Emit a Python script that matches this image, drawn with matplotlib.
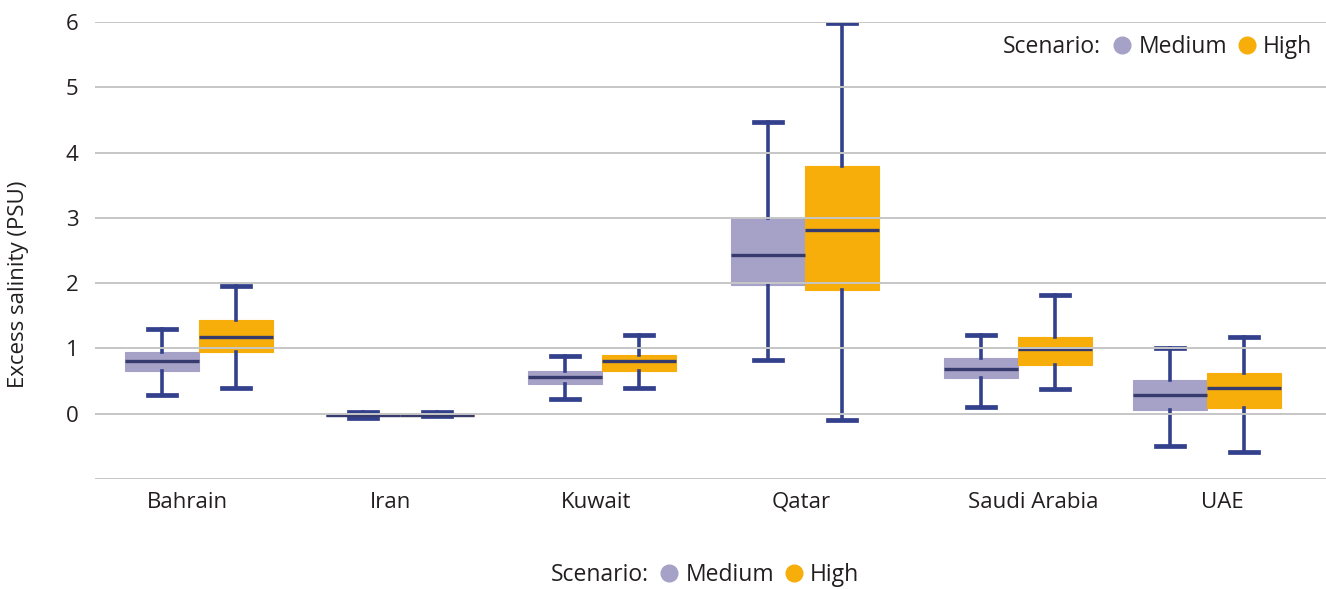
import matplotlib
matplotlib.use('Agg')
import matplotlib.pyplot as plt
from matplotlib.lines import Line2D

# ---- data ----
categories = ['Bahrain', 'Iran', 'Kuwait', 'Qatar', 'Saudi Arabia', 'UAE']
scenarios = ['Medium', 'High']

medium_low = [0.29, -0.06, 0.22, 0.82, 0.11, -0.50]
medium_q1 = [0.66, -0.03, 0.45, 1.97, 0.54, 0.06]
medium_med = [0.80, -0.02, 0.56, 2.43, 0.68, 0.28]
medium_q3 = [0.95, 0.00, 0.66, 3.00, 0.85, 0.51]
medium_high = [1.29, 0.03, 0.89, 4.47, 1.21, 1.00]

high_low = [0.39, -0.03, 0.39, -0.10, 0.38, -0.59]
high_q1 = [0.95, -0.03, 0.66, 1.89, 0.75, 0.09]
high_med = [1.17, -0.02, 0.80, 2.81, 0.99, 0.39]
high_q3 = [1.43, -0.01, 0.90, 3.80, 1.17, 0.62]
high_high = [1.95, 0.03, 1.21, 5.98, 1.82, 1.17]

y_ticks = [-1, 0, 1, 2, 3, 4, 5, 6]
y_tick_labels = ['', '0', '1', '2', '3', '4', '5', '6']

# ---- layout / style ----
W, H = 1326, 590
AX_L, AX_R, AX_T, AX_B = 95, 1326, 22, 479
group_centers = [104, 305, 507, 710, 923, 1112]   # px from axes left
label_centers = [92, 296, 501, 706, 938, 1127]
box_w = 74
cap_w = 28
col_medium = '#a6a1c7'
col_high = '#f7ae0a'
col_whisker = '#33408c'
col_median = '#363a6c'
col_grid = '#c6c6c6'
col_text = '#231f20'
FONT = 'Open Sans'
FS = 16
FS_LEG = 16.5

plt.rcParams['font.family'] = [FONT, 'DejaVu Sans']

fig = plt.figure(figsize=(W / 100, H / 100), dpi=100)
ax = fig.add_axes([AX_L / W, 1 - AX_B / H, (AX_R - AX_L) / W, (AX_B - AX_T) / H])


def make_stats(lo, q1, med, q3, hi):
    return [dict(whislo=a, q1=b, med=c, q3=d, whishi=e, fliers=[])
            for a, b, c, d, e in zip(lo, q1, med, q3, hi)]


series = [
    (make_stats(medium_low, medium_q1, medium_med, medium_q3, medium_high), col_medium, -box_w / 2),
    (make_stats(high_low, high_q1, high_med, high_q3, high_high), col_high, box_w / 2),
]

for stats, col, off in series:
    ax.bxp(stats, positions=[g + off for g in group_centers], widths=box_w,
           capwidths=cap_w, patch_artist=True, showfliers=False,
           boxprops=dict(facecolor=col, edgecolor=col, linewidth=0.8),
           whiskerprops=dict(color=col_whisker, linewidth=2.6),
           capprops=dict(color=col_whisker, linewidth=3.4),
           medianprops=dict(color=col_median, linewidth=2.4),
           manage_ticks=False, zorder=1)

ax.set_xlim(0, AX_R - AX_L)
ax.set_ylim(-1, 6)
ax.set_yticks(y_ticks)
ax.set_yticklabels(y_tick_labels)
ax.set_xticks(label_centers)
ax.set_xticklabels(categories)
ax.tick_params(axis='both', length=0, labelsize=FS, colors=col_text)
ax.tick_params(axis='y', pad=12)
ax.tick_params(axis='x', pad=9)
ax.set_axisbelow(False)
ax.yaxis.grid(True, color=col_grid, linewidth=1.4, zorder=3)
for s in ax.spines.values():
    s.set_visible(False)

ax.set_ylabel('Excess salinity (PSU)', fontsize=FS, color=col_text)
ax.yaxis.set_label_coords((29 - AX_L) / (AX_R - AX_L), (AX_B - 284) / (AX_B - AX_T))


def add_legend(x_text, x_leg, y):
    fig.text(x_text / W, 1 - y / H, 'Scenario:', fontsize=FS_LEG, color=col_text,
             ha='left', va='center')
    handles = [Line2D([], [], linestyle='None', marker='o', markersize=12,
                      markerfacecolor=c, markeredgecolor=c)
               for c in (col_medium, col_high)]
    leg = fig.legend(handles, scenarios, ncol=2, loc='center left',
                     bbox_to_anchor=(x_leg / W, 1 - y / H), frameon=False,
                     borderpad=0, borderaxespad=0, handlelength=1.0,
                     handletextpad=0.2, columnspacing=0.37, fontsize=FS_LEG)
    for t in leg.get_texts():
        t.set_color(col_text)


add_legend(1003, 1111, 47)
add_legend(551, 658, 575)

fig.savefig('out.png', dpi=100)
